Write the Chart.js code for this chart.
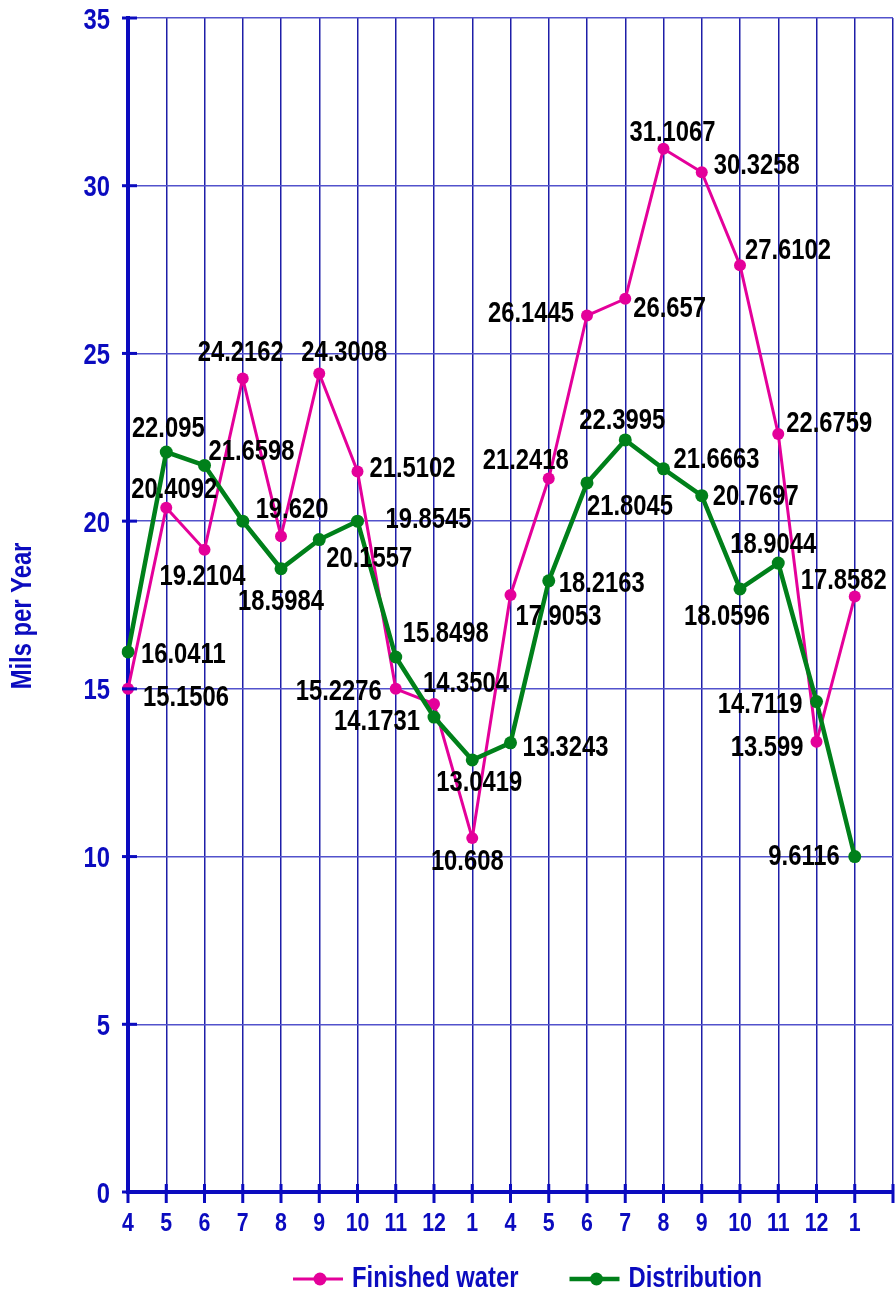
<!DOCTYPE html>
<html>
<head>
<meta charset="utf-8">
<title>Mils per Year</title>
<script src="https://cdn.jsdelivr.net/npm/chart.js@4.4.1/dist/chart.umd.min.js"></script>
<style>
  html, body { margin: 0; padding: 0; background: #ffffff; }
  #wrap { width: 895px; height: 1291px; }
</style>
</head>
<body>
<div id="wrap"><canvas id="corrosionChart" width="895" height="1291"></canvas></div>
<script>
// month labels along the bottom (last slot is the empty end column)
const months = ['4', '5', '6', '7', '8', '9', '10', '11', '12', '1',
                '4', '5', '6', '7', '8', '9', '10', '11', '12', '1', ''];

// plotted values
const finishedWater = [15.0, 20.4, 19.15, 24.25, 19.55, 24.4, 21.48, 15.0, 14.55, 10.55,
                       17.8, 21.27, 26.13, 26.63, 31.1, 30.4, 27.63, 22.6, 13.42, 17.75];
const distribution  = [16.1, 22.06, 21.66, 20.0, 18.58, 19.45, 20.0, 15.95, 14.16, 12.88,
                       13.39, 18.22, 21.14, 22.42, 21.56, 20.76, 17.98, 18.75, 14.62, 10.0];

// the value labels printed next to the points
const finishedLabels = ['15.1506', '20.4092', '19.2104', '24.2162', '19.620', '24.3008', '21.5102',
                        '15.2276', '14.3504', '10.608', '17.9053', '21.2418', '26.1445', '26.657',
                        '31.1067', '30.3258', '27.6102', '22.6759', '13.599', '17.8582'];
const distributionLabels = ['16.0411', '22.095', '21.6598', '', '18.5984', '20.1557', '19.8545',
                            '15.8498', '14.1731', '13.0419', '13.3243', '18.2163', '21.8045', '22.3995',
                            '21.6663', '20.7697', '18.0596', '18.9044', '14.7119', '9.6116'];

// y axis ticks
const yMin = 0;
const yMax = 35;
const yStep = 5;

// where each value label sits relative to its point: [align, dx, dy]
const finishedPlace = [
  ['left', 15, 7], ['center', 8, -20], ['center', -2, 25], ['center', -2, -28],
  ['center', 11, -28], ['center', 25, -23], ['left', 12, -4], ['right', -14, 1],
  ['center', 32, -22], ['center', -5, 22], ['left', 5, 20], ['right', 20, -20],
  ['right', -13, -4], ['left', 8, 8], ['center', 9, -18], ['left', 12, -8],
  ['left', 5, -16], ['left', 8, -12], ['right', -13, 4], ['center', -11, -18]
];
const distributionPlace = [
  ['left', 13, 1], ['center', 2, -25], ['left', 4, -15], null,
  ['center', 0, 31], ['left', 7, 17], ['left', 28, -3], ['left', 7, -25],
  ['right', -14, 3], ['center', 7, 21], ['left', 12, 3], ['left', 10, 1],
  ['left', 0, 22], ['center', -3, -21], ['left', 10, -11], ['left', 11, -1],
  ['center', -13, 26], ['center', -5, -20], ['right', -14, 1], ['right', -15, -2]
];

const FONT = '"Liberation Sans", Arial, sans-serif';
const SQUEEZE = 0.82;   // the original uses a narrow bold face
const AXIS_BLUE = '#0b0bbf';
const PINK = '#e4009a';
const GREEN = '#00801a';

// draw bold text squeezed horizontally around its anchor
function narrowText(ctx, text, x, y, size, align, angle) {
  ctx.save();
  ctx.translate(x, y);
  if (angle) ctx.rotate(angle);
  ctx.scale(SQUEEZE, 1);
  ctx.font = 'bold ' + size + 'px ' + FONT;
  ctx.textAlign = align;
  ctx.textBaseline = 'alphabetic';
  ctx.fillText(text, 0, 0);
  ctx.restore();
}

// value labels next to every point
const valueLabels = {
  id: 'valueLabels',
  afterDatasetsDraw(chart) {
    const ctx = chart.ctx;
    ctx.save();
    ctx.fillStyle = '#000000';
    chart.data.datasets.forEach((ds, di) => {
      const meta = chart.getDatasetMeta(di);
      meta.data.forEach((pt, i) => {
        const text = ds.valueText[i];
        const place = ds.place[i];
        if (!text || !place) return;
        narrowText(ctx, text, pt.x + place[1], pt.y + place[2] + 10, 29, place[0]);
      });
    });
    ctx.restore();
  }
};

// tick labels, ticks that cross the axes, axis title and the legend
const axisExtras = {
  id: 'axisExtras',
  afterDraw(chart) {
    const ctx = chart.ctx;
    const area = chart.chartArea;
    const xs = chart.scales.x;
    const ys = chart.scales.y;
    ctx.save();
    ctx.strokeStyle = AXIS_BLUE;
    ctx.fillStyle = AXIS_BLUE;
    ctx.lineWidth = 3;
    ys.ticks.forEach((t, i) => {
      const py = ys.getPixelForTick(i);
      ctx.beginPath();
      ctx.moveTo(area.left - 6, py);
      ctx.lineTo(area.left + 9, py);
      ctx.stroke();
      narrowText(ctx, String(t.value), area.left - 18, py + 10.5, 29, 'right');
    });
    xs.ticks.forEach((t, i) => {
      const px = xs.getPixelForTick(i);
      ctx.beginPath();
      ctx.moveTo(px, area.bottom - 8);
      ctx.lineTo(px, area.bottom + 11);
      ctx.stroke();
      narrowText(ctx, months[i], px, area.bottom + 39, 26, 'center');
    });

    // y axis title
    narrowText(ctx, 'Mils per Year', 31, (area.top + area.bottom) / 2 + 11, 29, 'center', -Math.PI / 2);

    // legend
    let x = 293;
    const y = 1279;
    chart.data.datasets.forEach(ds => {
      ctx.strokeStyle = ds.borderColor;
      ctx.lineWidth = ds.borderWidth;
      ctx.beginPath();
      ctx.moveTo(x, y);
      ctx.lineTo(x + 50, y);
      ctx.stroke();
      ctx.fillStyle = ds.borderColor;
      ctx.beginPath();
      ctx.arc(x + 27, y, 6.5, 0, Math.PI * 2);
      ctx.fill();
      ctx.fillStyle = AXIS_BLUE;
      narrowText(ctx, ds.label, x + 59, y + 8, 29, 'left');
      ctx.font = 'bold 29px ' + FONT;
      x += 59 + ctx.measureText(ds.label).width * SQUEEZE + 51;
    });
    ctx.restore();
  }
};

const chart = new Chart(document.getElementById('corrosionChart'), {
  type: 'line',
  data: {
    labels: months,
    datasets: [
      {
        label: 'Finished water',
        data: finishedWater,
        valueText: finishedLabels,
        place: finishedPlace,
        borderColor: PINK,
        backgroundColor: PINK,
        borderWidth: 3,
        pointRadius: 6,
        pointBorderWidth: 0,
        tension: 0,
        order: 1
      },
      {
        label: 'Distribution',
        data: distribution,
        valueText: distributionLabels,
        place: distributionPlace,
        borderColor: GREEN,
        backgroundColor: GREEN,
        borderWidth: 4.5,
        pointRadius: 6.5,
        pointBorderWidth: 0,
        tension: 0,
        order: 0
      }
    ]
  },
  options: {
    responsive: false,
    animation: false,
    devicePixelRatio: 1,
    layout: { autoPadding: false, padding: { top: 18, right: 2, left: 0, bottom: 0 } },
    plugins: {
      legend: { display: false },
      tooltip: { enabled: false }
    },
    scales: {
      x: {
        type: 'category',
        offset: false,
        grid: { color: '#1e1ea8', lineWidth: 1.5, drawTicks: false },
        border: { display: true, color: AXIS_BLUE, width: 4 },
        ticks: { display: false, autoSkip: false },
        afterFit(scale) { scale.height = 99; }
      },
      y: {
        min: yMin,
        max: yMax,
        grid: { color: '#5252cc', lineWidth: 1.5, drawTicks: false },
        border: { display: true, color: AXIS_BLUE, width: 4 },
        ticks: { display: false, stepSize: yStep },
        afterFit(scale) { scale.width = 128; }
      }
    }
  },
  plugins: [valueLabels, axisExtras]
});
</script>
</body>
</html>
